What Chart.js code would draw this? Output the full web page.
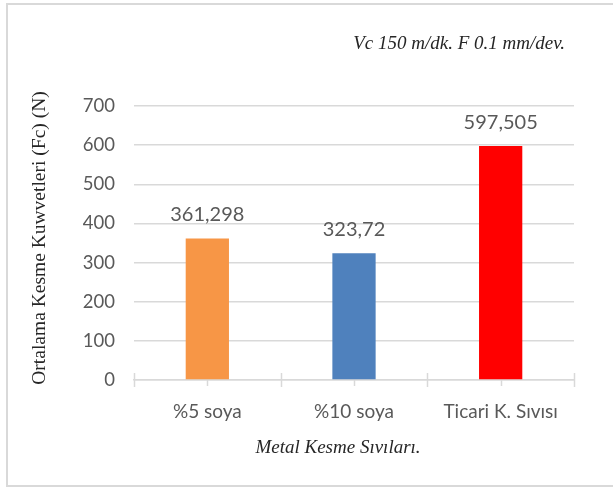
<!DOCTYPE html>
<html>
<head>
<meta charset="utf-8">
<script src="https://cdn.jsdelivr.net/npm/chart.js@4"></script>
<style>
  html, body { margin: 0; padding: 0; background: #fff; }
  #wrap { position: relative; width: 613px; height: 487px; overflow: hidden; }
  #frame { position: absolute; left: 6px; top: 3px; width: 640px; height: 480px;
           border: 2px solid #d9d9d9; box-sizing: content-box; }
  canvas { position: absolute; left: 0; top: 0; }
</style>
</head>
<body>
<div id="wrap">
  <div id="frame"></div>
  <canvas id="c" width="613" height="487"></canvas>
</div>
<script>
// Cutting fluids and their mean cutting force Fc (N)
const categories = ['%5 soya', '%10 soya', 'Ticari K. Sıvısı'];
const forces = [361.298, 323.72, 597.505];
const barColors = ['#F79646', '#4F81BD', '#FF0000'];
const yTicks = [0, 100, 200, 300, 400, 500, 600, 700];

const conditionText = 'Vc 150 m/dk. F 0.1 mm/dev.';
const xTitle = 'Metal Kesme Sıvıları.';
const yTitle = 'Ortalama Kesme Kuwvetleri (Fc) (N)';

const tickColor = '#595959';
const gridColor = '#d9d9d9';
const sans = 'Lato, "Open Sans", sans-serif';
const serif = '"Liberation Serif", "DejaVu Serif", serif';

// value labels written with a decimal comma
const fmt = v => String(v).replace('.', ',');

const decor = {
  id: 'decor',
  afterDatasetsDraw(chart) {
    const ctx = chart.ctx;
    const meta = chart.getDatasetMeta(0);
    ctx.save();
    ctx.fillStyle = tickColor;
    ctx.font = '20px ' + sans;
    ctx.textAlign = 'center';
    ctx.textBaseline = 'middle';
    meta.data.forEach((bar, i) => {
      ctx.fillText(fmt(forces[i]), bar.x, bar.y - 24);
    });
    ctx.restore();
  },
  afterDraw(chart) {
    const ctx = chart.ctx;
    const area = chart.chartArea;
    const x = chart.scales.x;
    ctx.save();
    // category axis tick marks: boundaries cross the axis, centres hang below
    ctx.strokeStyle = gridColor;
    ctx.lineWidth = 1.5;
    const n = categories.length;
    const step = (x.right - x.left) / n;
    for (let i = 0; i <= n; i++) {
      const px = Math.round(x.left + i * step) + 0.5;
      ctx.beginPath();
      ctx.moveTo(px, area.bottom - 7);
      ctx.lineTo(px, area.bottom + 7);
      ctx.stroke();
    }
    for (let i = 0; i < n; i++) {
      const px = Math.round(x.getPixelForValue(i)) + 0.5;
      ctx.beginPath();
      ctx.moveTo(px, area.bottom);
      ctx.lineTo(px, area.bottom + 6);
      ctx.stroke();
    }
    // titles
    ctx.fillStyle = '#262626';
    ctx.textBaseline = 'middle';
    ctx.font = 'italic 19px ' + serif;
    ctx.textAlign = 'right';
    ctx.fillText(conditionText, 565, 44);
    ctx.textAlign = 'center';
    ctx.fillText(xTitle, 338, 448);
    ctx.translate(40, (area.top + area.bottom) / 2 - 5);
    ctx.rotate(-Math.PI / 2);
    ctx.font = '19.5px ' + serif;
    ctx.fillText(yTitle, 0, 0);
    ctx.restore();
  }
};

new Chart(document.getElementById('c'), {
  type: 'bar',
  data: {
    labels: categories,
    datasets: [{
      data: forces,
      backgroundColor: barColors,
      borderWidth: 0,
      barPercentage: 0.59,
      categoryPercentage: 0.5
    }]
  },
  options: {
    responsive: false,
    animation: false,
    devicePixelRatio: 1,
    layout: { padding: { left: 0, top: 106, right: 39, bottom: 0 } },
    plugins: { legend: { display: false }, tooltip: { enabled: false }, title: { display: false } },
    scales: {
      x: {
        grid: { display: false },
        border: { display: true, color: gridColor, width: 1.5 },
        ticks: { color: tickColor, font: { family: sans, size: 19 }, padding: 12 },
        afterFit(scale) { scale.height = 107; }
      },
      y: {
        min: 0,
        max: 700,
        afterBuildTicks(scale) { scale.ticks = yTicks.map(v => ({ value: v })); },
        grid: { color: gridColor, lineWidth: 1.5, drawTicks: false },
        border: { display: false },
        ticks: { color: tickColor, font: { family: sans, size: 18.5 }, padding: 19 },
        afterFit(scale) { scale.width = 134; }
      }
    }
  },
  plugins: [decor]
});
</script>
</body>
</html>
